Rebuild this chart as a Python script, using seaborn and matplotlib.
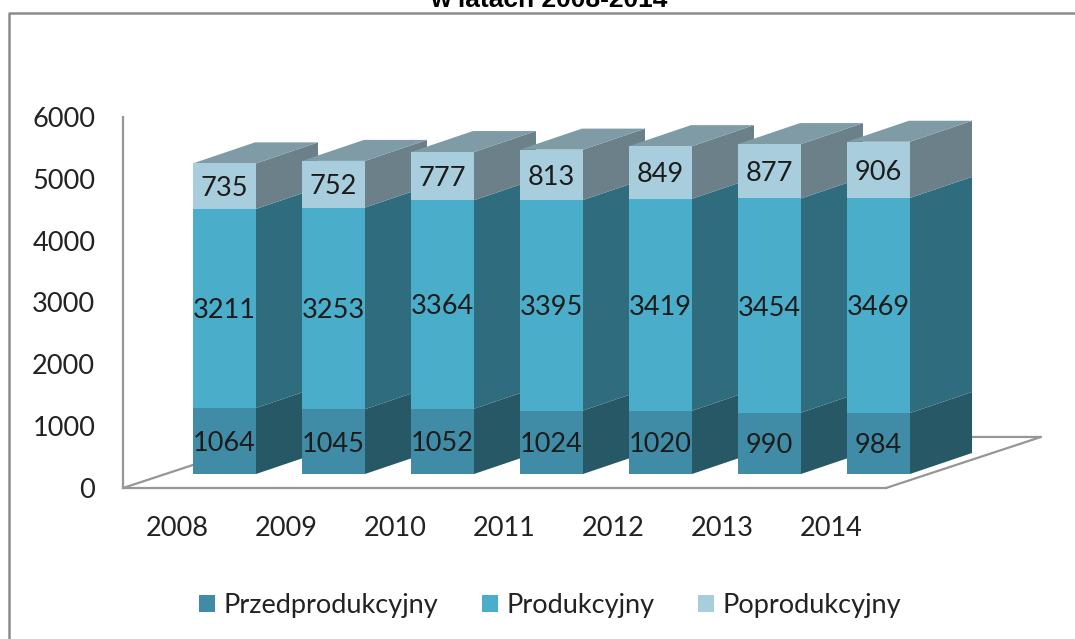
import pandas
import seaborn
import matplotlib
matplotlib.use('Agg')
import matplotlib.pyplot as plt
from matplotlib.lines import Line2D

years = ['2008', '2009', '2010', '2011', '2012', '2013', '2014']
przedprodukcyjny = [1064, 1045, 1052, 1024, 1020, 990, 984]
produkcyjny = [3211, 3253, 3364, 3395, 3419, 3454, 3469]
poprodukcyjny = [735, 752, 777, 813, 849, 877, 906]
seriesNames = ['Przedprodukcyjny', 'Produkcyjny', 'Poprodukcyjny']
yTicks = [0, 1000, 2000, 3000, 4000, 5000, 6000]

# front, side, top colours of every segment
frontColors = ['#408CA6', '#4AADC9', '#A8CEDD']
sideColors = ['#275866', '#2F6C7E', '#6C808A']
topColor = '#7E9BA6'
gray = '#969696'

W, H = 1075, 639
FONT = 19.5

seaborn.set_theme(style='white')
plt.rcParams['font.family'] = ['Lato', 'DejaVu Sans']
plt.rcParams['text.color'] = '#222222'


def pixelAxes(fig, left, right, bottom, top):
    # axes position given in pixels of the picture, measured from the top
    return fig.add_axes([left / W, 1 - bottom / H, (right - left) / W, (bottom - top) / H])


fig = plt.figure(figsize=(W / 100, H / 100), dpi=100)

# axis plane with floor
axMain = pixelAxes(fig, 123, 886, 488, 117)
axMain.set_xlim(-0.5, 6.5)
axMain.set_ylim(0, 6000)
axMain.set_xticks(range(len(years)), years)
axMain.set_yticks(yTicks)
axMain.tick_params(axis='both', length=0, labelsize=FONT, colors='#222222')
axMain.tick_params(axis='x', pad=20.5)
axMain.tick_params(axis='y', pad=20)
seaborn.despine(ax=axMain)
for side in ['left', 'bottom']:
    axMain.spines[side].set_color(gray)
    axMain.spines[side].set_linewidth(1.6)

floorDx, floorDy = 155 / 109, 51 / 0.0618
axMain.plot([-0.5, -0.5 + floorDx, 6.5 + floorDx, 6.5], [0, floorDy, floorDy, 0],
            color=gray, lw=1.6, clip_on=False)

# bars live on their own axes, shifted into the depth of the floor
axBars = pixelAxes(fig, 170, 933, 474, 102)
axBars.patch.set_visible(False)

df = pandas.DataFrame({'rok': years, seriesNames[0]: przedprodukcyjny,
                       seriesNames[1]: produkcyjny, seriesNames[2]: poprodukcyjny})
barWidth = 63 / 109
depthX, depthY = 62 / 109, 21 / 0.062

bottom = [0] * len(years)
bottoms = []
for name, color in zip(seriesNames, frontColors):
    seaborn.barplot(data=df, x='rok', y=name, color=color, saturation=1, width=barWidth,
                    bottom=bottom, zorder=5, linewidth=0, ax=axBars, legend=False)
    bottoms.append(bottom)
    bottom = [a + b for a, b in zip(bottom, df[name])]

for container, name in zip(axBars.containers, seriesNames):
    labels = axBars.bar_label(container, labels=[str(v) for v in df[name]], label_type='center',
                              fontsize=FONT, color='#1c1c1c', zorder=6)
    for label in labels:
        label.set_verticalalignment('center_baseline')

# side and top faces, left to right so the next bar covers the previous one
for i in range(len(years)):
    x = i + barWidth / 2
    for name, color, low in zip(seriesNames, sideColors, bottoms):
        y0, y1 = low[i], low[i] + df[name][i]
        axBars.fill([x, x + depthX, x + depthX, x], [y0, y0 + depthY, y1 + depthY, y1],
                    color=color, lw=0, zorder=1 + i * 0.1, clip_on=False)
    axBars.fill([x - barWidth, x, x + depthX, x - barWidth + depthX],
                [bottom[i], bottom[i], bottom[i] + depthY, bottom[i] + depthY],
                color=topColor, lw=0, zorder=1 + i * 0.1, clip_on=False)

axBars.set_xlim(-0.5, 6.5)
axBars.set_ylim(0, 6000)
axBars.axis('off')

fig.legend(axBars.containers, seriesNames, loc='center', bbox_to_anchor=(550 / W, 1 - 606 / H),
           ncol=3, frameon=False, fontsize=FONT, handlelength=0.59, handleheight=0.59,
           handletextpad=0.33, columnspacing=1.6)

# title is cut by the top edge in the source picture
fig.text(549 / W, 1 - 7 / H, 'w latach 2008-2014', ha='center', va='baseline',
         fontsize=19, fontweight='bold', family='Liberation Sans', color='black')

# chart frame, open at the right and at the bottom
fig.add_artist(Line2D([9 / W, 9 / W, 1], [0, 1 - 13 / H, 1 - 13 / H], color='#8c8c8c', lw=1.8))

fig.savefig('out.png', dpi=100)
